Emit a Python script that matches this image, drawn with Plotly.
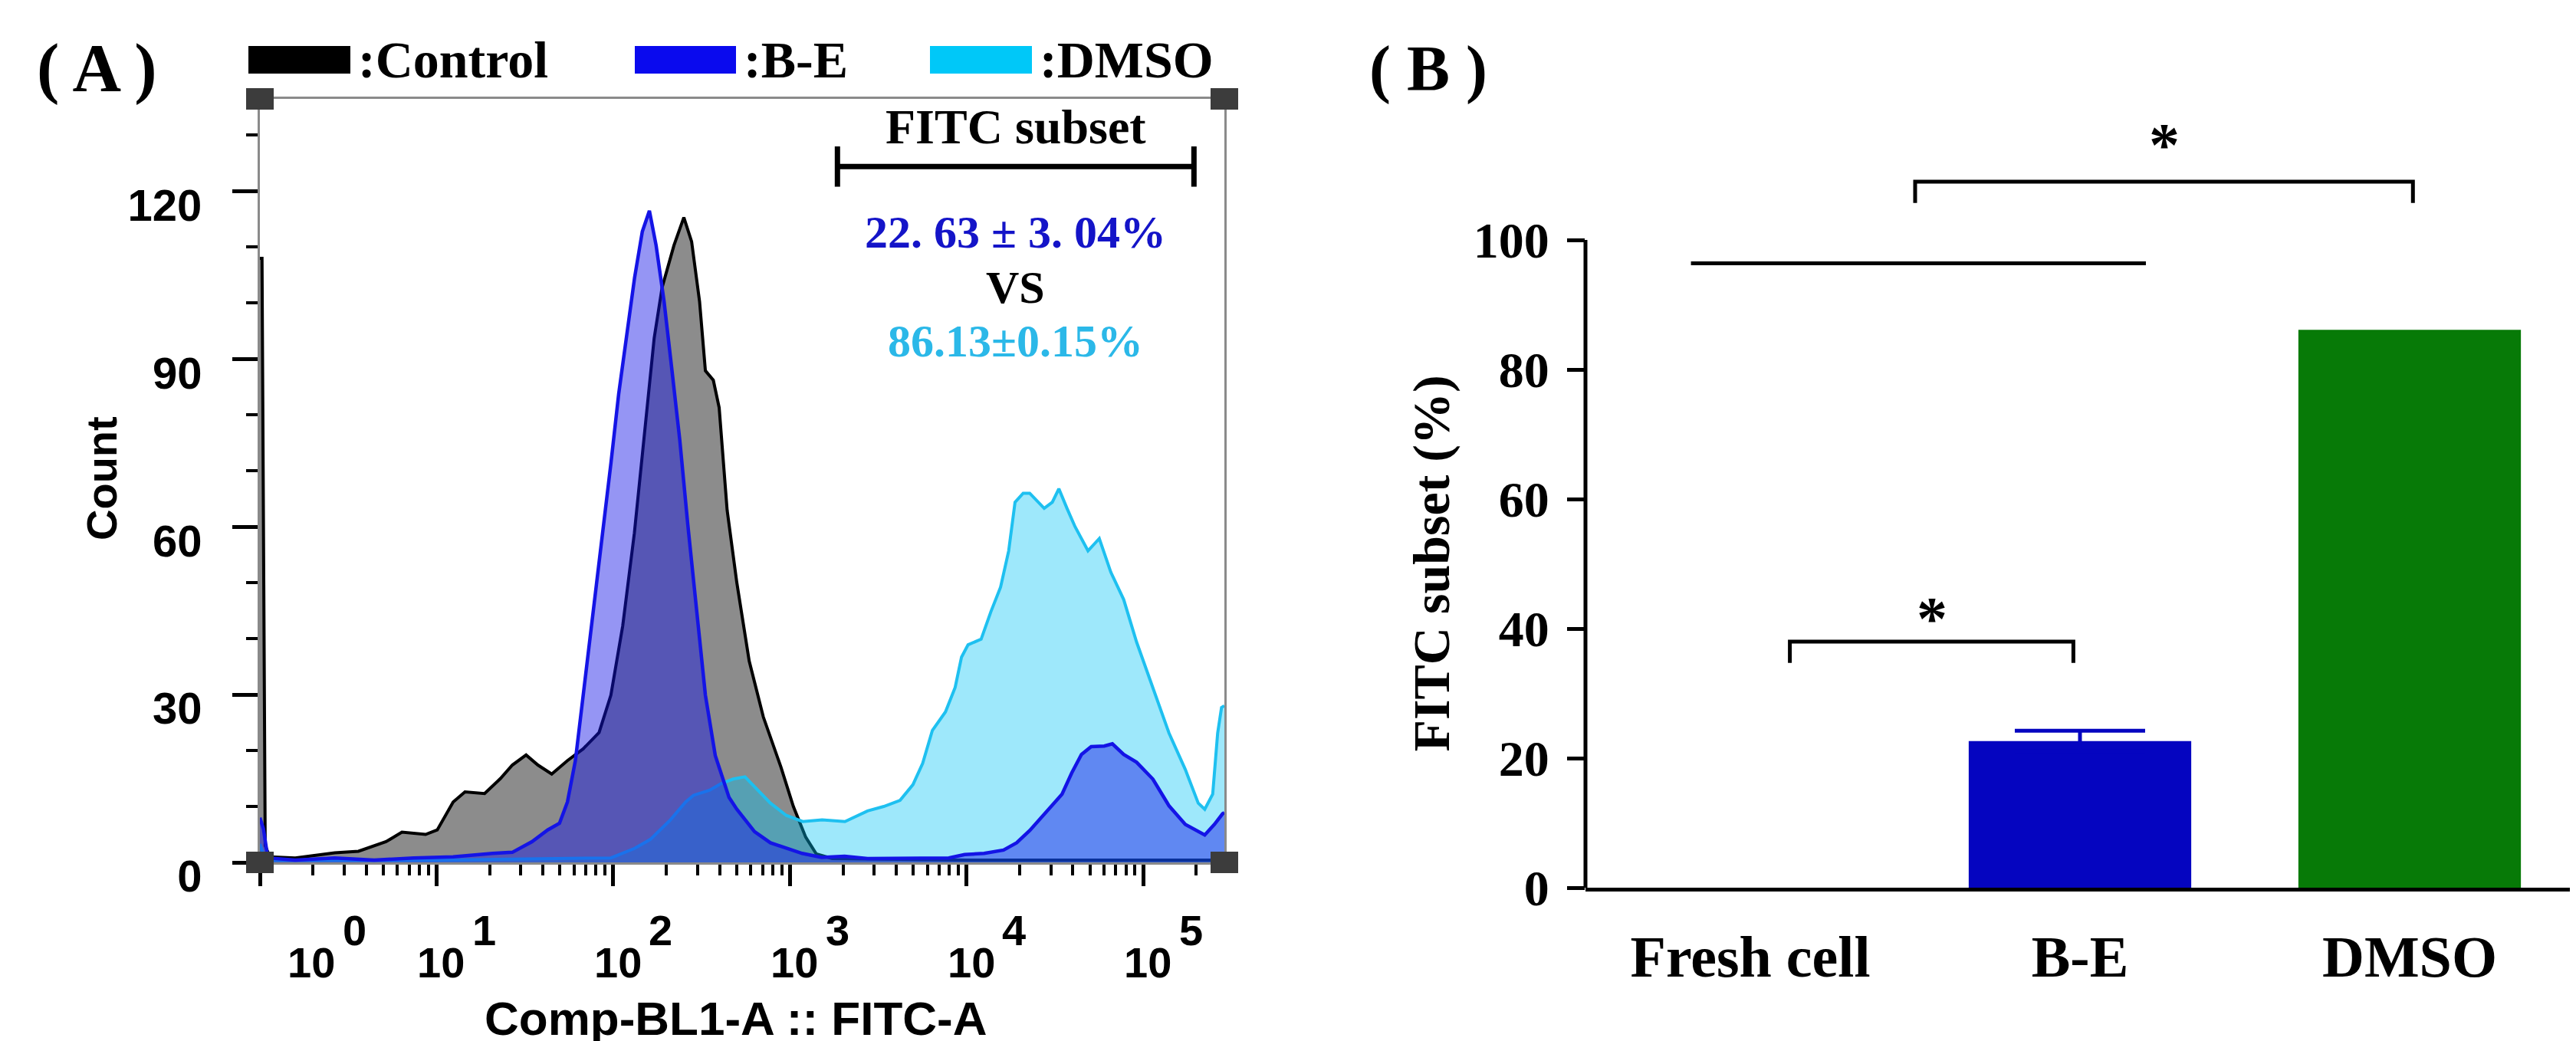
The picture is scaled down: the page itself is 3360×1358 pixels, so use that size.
import math
import numpy as np
import plotly.graph_objects as go

W, H = 3360, 1358
SANS = "Liberation Sans, Arial, sans-serif"
SERIF = "Liberation Serif, Times New Roman, serif"

# --- (A) flow histogram: x in decades (log10 of Comp-BL1-A :: FITC-A), y = count ---
control_dec = [0.0, 0.012, 0.03, 0.056, 0.2, 0.424, 0.558, 0.647, 0.714, 0.804, 0.938, 1.004,
               1.094, 1.161, 1.272, 1.362, 1.429, 1.507, 1.574, 1.652, 1.741, 1.83, 1.92, 1.987,
               2.054, 2.12, 2.188, 2.232, 2.277, 2.344, 2.4, 2.444, 2.489, 2.522, 2.567, 2.6,
               2.645, 2.7, 2.77, 2.85, 2.95, 3.02, 3.09, 3.15, 3.24, 4.0, 5.0, 5.46]
control_cnt = [108, 108, 3, 1, 0.8, 1.7, 2, 3, 3.7, 5.4, 5, 5.8,
               10.8, 12.6, 12.3, 15, 17.4, 19.2, 17.4, 15.8, 18.2, 20.3, 23.2, 29.9,
               42.3, 58.9, 79.6, 93.7, 102.8, 110.3, 115.3, 111, 100.3, 87.9, 86.2, 81.3,
               63, 50, 36, 26, 17, 10, 4.5, 1.5, 0.7, 0.4, 0.4, 0.4]

be_dec = [0.0, 0.02, 0.045, 0.2, 0.424, 0.647, 0.871, 1.094, 1.317, 1.429, 1.54, 1.629, 1.696,
          1.741, 1.786, 1.83, 1.897, 1.942, 1.987, 2.031, 2.076, 2.121, 2.165, 2.205, 2.243,
          2.288, 2.333, 2.377, 2.422, 2.467, 2.522, 2.578, 2.656, 2.7, 2.8, 2.89, 2.98, 3.07,
          3.18, 3.31, 3.44, 3.62, 3.9, 3.99, 4.1, 4.21, 4.284, 4.358, 4.45, 4.541, 4.596,
          4.651, 4.706, 4.78, 4.826, 4.89, 4.963, 5.055, 5.147, 5.239, 5.349, 5.404, 5.45, 5.46]
be_cnt = [8, 6, 0.8, 0.4, 0.8, 0.4, 0.8, 1, 1.6, 1.8, 3.7, 5.8, 7,
          10.8, 18.2, 29.9, 46.4, 58.9, 71.3, 83.7, 93.7, 104.5, 112.8, 116.5, 110.3,
          100.3, 87.9, 75.5, 60.5, 46.4, 29.9, 19.1, 11.6, 9.5, 5.5, 3.5, 2.6, 1.6,
          0.9, 1.1, 0.7, 0.7, 0.8, 1.4, 1.6, 2.2, 3.5, 5.7, 9, 12.2, 16,
          19.3, 20.7, 20.8, 21.2, 19.3, 17.9, 14.9, 10.1, 6.8, 4.9, 6.8, 8.7, 8.9]

dmso_dec = [0.0, 0.03, 1.0, 1.987, 2.121, 2.21, 2.321, 2.41, 2.455, 2.545, 2.612, 2.679, 2.746,
            2.8, 2.89, 2.98, 3.073, 3.183, 3.312, 3.44, 3.532, 3.624, 3.697, 3.752, 3.807,
            3.881, 3.936, 3.972, 4.009, 4.083, 4.138, 4.193, 4.239, 4.275, 4.321, 4.358, 4.44,
            4.486, 4.523, 4.569, 4.615, 4.688, 4.752, 4.817, 4.89, 4.963, 5.055, 5.147, 5.239,
            5.312, 5.349, 5.394, 5.422, 5.444, 5.46]
dmso_cnt = [3.3, 0.4, 0.4, 0.8, 2.5, 4.1, 7.5, 10.8, 12, 12.9, 14.1, 14.9, 15.3,
            13.5, 10.6, 8.4, 7.3, 7.6, 7.3, 9.2, 10, 11.1, 13.9, 17.7, 23.6,
            26.9, 31.3, 36.7, 38.9, 39.9, 44.8, 49.2, 55.7, 64.4, 66, 66, 63.3,
            64.4, 66.8, 63.3, 60, 55.7, 57.9, 51.9, 47, 39.4, 31.3, 23.1, 16.6,
            10.6, 9.5, 12.2, 23.1, 27.7, 28]

fitc_gate = [1860, 194000]      # FITC subset gate (FITC-A)
gate_y = 124.4
be_stat = "22. 63 ± 3. 04%"
dmso_stat = "86.13±0.15%"

x_decades = [0, 1, 2, 3, 4, 5]
decade_label_at = [1.84, 10, 100, 1000, 10000, 100000]   # where the 10^k labels sit
count_ticks = [0, 30, 60, 90, 120]
count_minor = [10, 20, 40, 50, 70, 80, 100, 110, 130]

# --- (B) FITC subset bars ---
groups = ["Fresh cell", "B-E", "DMSO"]
subset_mean = [0, 22.63, 86.13]
subset_err = [0, 1.6, 0.15]
bar_colors = ["#0505c0", "#0505c0", "#077a07"]
pct_ticks = [0, 20, 40, 60, 80, 100]
sig_brackets = [  # x_left, x_right, leg_y, top_y, star lift (px)
    (0.12, 0.98, 34.7, 38.0, -16),
    (0.50, 2.01, 105.7, 109.0, 2),
]
ref_line = (-0.18, 1.20, 96.4)


def px(v):
    return v / W


def py(v):
    return 1 - v / H


def note(text, x, y, size, family=SERIF, color="black", **kw):
    kw.setdefault("xref", "paper")
    kw.setdefault("yref", "paper")
    kw.setdefault("xanchor", "center")
    kw.setdefault("yanchor", "middle")
    fig.add_annotation(x=x, y=y, text=text, showarrow=False,
                       font=dict(family=family, size=size, color=color, weight="bold"), **kw)


fig = go.Figure()

hist = [
    ("Control", control_dec, control_cnt, "#000000", "rgba(0,0,0,0.45)", 4),
    ("DMSO", dmso_dec, dmso_cnt, "#1ec0f0", "rgba(0,195,245,0.38)", 4),
    ("B-E", be_dec, be_cnt, "#1414e6", "rgba(20,20,230,0.45)", 4.5),
]
for name, dec, cnt, lc, fc, lw in hist:
    fig.add_trace(go.Scatter(
        x=np.power(10.0, dec), y=cnt, name=name, mode="lines",
        line=dict(color=lc, width=lw), fill="tozeroy", fillcolor=fc,
        xaxis="x", yaxis="y", showlegend=False, hoverinfo="skip"))

g0, g1 = fitc_gate
fig.add_trace(go.Scatter(
    x=[g0, g0, None, g0, g1, None, g1, g1],
    y=[gate_y - 3.6, gate_y + 3.6, None, gate_y, gate_y, None, gate_y - 3.6, gate_y + 3.6],
    mode="lines", line=dict(color="black", width=7),
    xaxis="x", yaxis="y", showlegend=False, hoverinfo="skip"))

for i, g in enumerate(groups):
    fig.add_trace(go.Bar(
        x=[i], y=[subset_mean[i]], name=g, width=0.675,
        marker=dict(color=bar_colors[i], line_width=0),
        error_y=dict(type="data", array=[subset_err[i]], visible=subset_err[i] >= 1,
                     color=bar_colors[i], thickness=5, width=85),
        xaxis="x2", yaxis="y2", showlegend=False))

for xl, xr, yl, yt, lift in sig_brackets:
    fig.add_trace(go.Scatter(
        x=[xl, xl, xr, xr], y=[yl, yt, yt, yl], mode="lines",
        line=dict(color="black", width=5),
        xaxis="x2", yaxis="y2", showlegend=False, hoverinfo="skip"))
    note("*", (xl + xr) / 2, yt, 80, xref="x2", yref="y2", yanchor="bottom", yshift=lift)

fig.add_trace(go.Scatter(
    x=[ref_line[0], ref_line[1]], y=[ref_line[2], ref_line[2]], mode="lines",
    line=dict(color="black", width=5),
    xaxis="x2", yaxis="y2", showlegend=False, hoverinfo="skip"))

# axes
minor_vals = [k * 10 ** d for d in range(6) for k in range(2, 10) if k * 10 ** d < 10 ** 5.46]

dom_ax = [px(331), px(1589)]
dom_ay = [py(1117), py(121)]

fig.update_layout(
    width=W, height=H,
    margin=dict(l=0, r=0, t=0, b=0),
    paper_bgcolor="white", plot_bgcolor="white",
    xaxis=dict(
        type="log", domain=dom_ax, range=[0, 5.46], anchor="y", automargin=False,
        showline=True, linecolor="#8a8a8a", linewidth=3, mirror=True,
        showgrid=False, zeroline=False,
        ticks="outside", ticklen=28, tickwidth=5, tickcolor="black",
        tickvals=[10 ** d for d in x_decades], showticklabels=False,
        minor=dict(tickvals=minor_vals, ticks="outside", ticklen=14, tickwidth=4,
                   tickcolor="black"),
    ),
    yaxis=dict(
        domain=dom_ay, range=[0, 136.5], anchor="x", automargin=False,
        showline=True, linecolor="#8a8a8a", linewidth=3, mirror=True,
        showgrid=False, zeroline=False,
        ticks="outside", ticklen=33, tickwidth=5, tickcolor="black",
        tickvals=count_ticks, ticklabelshift=18, ticklabelstandoff=28,
        tickfont=dict(family=SANS, size=58, color="black", weight="bold"),
        minor=dict(tickvals=count_minor, ticks="outside", ticklen=15, tickwidth=4,
                   tickcolor="black"),
    ),
    xaxis2=dict(
        domain=[px(2060), px(3350)], range=[-0.5, 2.5], anchor="y2", automargin=False,
        showline=True, linecolor="black", linewidth=5, showgrid=False, zeroline=False,
        ticks="", tickvals=list(range(len(groups))), ticktext=groups,
        ticklabelstandoff=20,
        tickfont=dict(family=SERIF, size=76, color="black", weight="bold"),
    ),
    yaxis2=dict(
        domain=[py(1150), py(136)], range=[0, 120], anchor="x2", automargin=False,
        showline=False, showgrid=False, zeroline=False,
        ticks="outside", ticklen=23, tickwidth=5, tickcolor="black",
        tickvals=pct_ticks, ticklabelstandoff=10,
        tickfont=dict(family=SERIF, size=66, color="black", weight="bold"),
    ),
)

shapes = [dict(type="line", xref="x2 domain", yref="y2", x0=0, x1=0, y0=0, y1=100,
               line=dict(color="black", width=5))]
# dark corner markers of the cytometry frame
for cx in (331, 1589):
    for cy in (121, 1117):
        shapes.append(dict(type="rect", xref="paper", yref="paper",
                           x0=px(cx - 18), x1=px(cx + 18), y0=py(cy + 14), y1=py(cy - 14),
                           fillcolor="#3c3c3c", line_width=0))

# legend of panel A
legend_items = [(":Control", "#000000", 316, 449), (":B-E", "#0a0aee", 820, 952),
                (":DMSO", "#00c8f8", 1205, 1338)]
for label, col, x0, x1 in legend_items:
    shapes.append(dict(type="rect", xref="paper", yref="paper",
                       x0=px(x0), x1=px(x1), y0=py(88), y1=py(52),
                       fillcolor=col, line_width=0))
    note(label, px(x1 + 8), py(70), 68, xanchor="left")
fig.update_layout(shapes=shapes)

# decade labels 10^k, exponent as large as the base
for d, xv in zip(x_decades, decade_label_at):
    note("10", math.log10(xv), py(1247), 56, family=SANS, xref="x", xshift=6)
    note(str(d), math.log10(xv), py(1205), 56, family=SANS, xref="x", xshift=62)

note("Comp-BL1-A :: FITC-A", px(951), py(1320), 62, family=SANS)
note("Count", px(125), py(616), 56, family=SANS, textangle=-90)

gate_mid = (math.log10(g0) + math.log10(g1)) / 2
note("FITC subset", gate_mid, 131.5, 64, xref="x", yref="y")
for txt, yv, col in [(be_stat, 112.6, "#1414c8"), ("VS", 102.8, "black"),
                     (dmso_stat, 93.2, "#2bb8e8")]:
    note(txt, gate_mid, yv, 60, color=col, xref="x", yref="y")

note("( A )", px(118), py(80), 88)
note("( B )", px(1855), py(82), 84)
note("FITC subset (%)", px(1858), 50, 68, yref="y2", textangle=-90)

fig.write_html("out.html")
